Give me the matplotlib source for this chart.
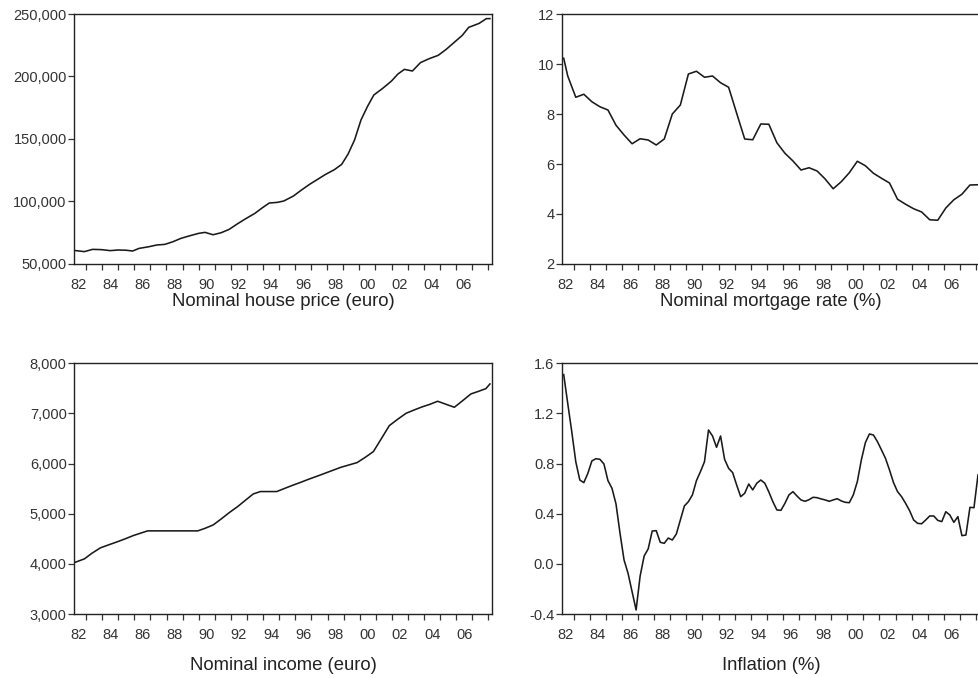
import matplotlib
matplotlib.use("Agg")
import numpy as np
import matplotlib.pyplot as plt
from matplotlib.ticker import FuncFormatter, FormatStrFormatter

plt.rcParams['font.family'] = ['Liberation Sans', 'DejaVu Sans']
plt.rcParams['axes.unicode_minus'] = False

# x axis: year boundaries get tick marks, labels sit in the middle of the year
year_ticks = list(range(1983, 2009))
label_pos = [1982.5, 1984.5, 1986.5, 1988.5, 1990.5, 1992.5, 1994.5,
             1996.5, 1998.5, 2000.5, 2002.5, 2004.5, 2006.5]
year_labels = ['82', '84', '86', '88', '90', '92', '94', '96', '98', '00', '02', '04', '06']

# nominal house price (euro)
hp_t = [1982.36, 1982.9, 1983.4, 1983.95, 1984.5, 1985.0, 1985.5, 1985.9, 1986.3, 1986.9,
        1987.4, 1987.9, 1988.4, 1988.9, 1989.4, 1990.0, 1990.4, 1990.9, 1991.4, 1991.9,
        1992.4, 1992.9, 1993.5, 1994.0, 1994.4, 1994.9, 1995.3, 1995.9, 1996.4, 1996.9,
        1997.4, 1997.9, 1998.45, 1998.9, 1999.3, 1999.7, 1999.9, 2000.1, 2000.5, 2000.9,
        2001.45, 2002.0, 2002.4, 2002.8, 2003.3, 2003.8, 2004.35, 2004.9, 2005.4, 2005.9,
        2006.4, 2006.8, 2007.45, 2007.9, 2008.12]
hp_v = [60700, 59900, 61700, 61500, 60700, 61200, 61000, 60400, 62500, 63800,
        65200, 65700, 67800, 70500, 72400, 74500, 75300, 73400, 75000, 77700,
        82000, 86000, 90500, 95300, 98800, 99300, 100400, 104400, 109200, 113700,
        117700, 121700, 125500, 129700, 138000, 149200, 157200, 165200, 175900, 185200,
        190500, 196400, 202000, 205700, 204400, 211100, 214300, 216900, 221700, 227300,
        232900, 239300, 242500, 246300, 246300]

# nominal mortgage rate (%)
mr_t = [1982.375, 1982.625, 1983.125, 1983.625, 1984.125, 1984.625, 1985.125, 1985.625,
        1986.125, 1986.625, 1987.125, 1987.625, 1988.125, 1988.625, 1989.125, 1989.625,
        1990.125, 1990.625, 1991.125, 1991.625, 1992.125, 1992.625, 1993.125, 1993.625,
        1994.125, 1994.625, 1995.125, 1995.625, 1996.125, 1996.625, 1997.125, 1997.625,
        1998.125, 1998.625, 1999.125, 1999.625, 2000.125, 2000.625, 2001.125, 2001.625,
        2002.125, 2002.625, 2003.125, 2003.625, 2004.125, 2004.625, 2005.125, 2005.625,
        2006.125, 2006.625, 2007.125, 2007.625, 2008.125]
mr_v = [10.23, 9.52, 8.67, 8.79, 8.49, 8.29, 8.16, 7.55, 7.16, 6.81,
        7.01, 6.96, 6.76, 7.0, 8.0, 8.36, 9.6, 9.71, 9.47, 9.52,
        9.25, 9.07, 8.03, 7.0, 6.97, 7.6, 7.59, 6.85, 6.43, 6.12,
        5.76, 5.85, 5.72, 5.4, 5.01, 5.29, 5.65, 6.11, 5.93, 5.63,
        5.43, 5.24, 4.59, 4.39, 4.21, 4.08, 3.77, 3.75, 4.24, 4.57,
        4.79, 5.16, 5.17]

# nominal income (euro)
in_t = [1982.34, 1982.9, 1983.37, 1983.89, 1984.4, 1984.93, 1985.42, 1985.94, 1986.44, 1986.83,
        1989.94, 1990.41, 1990.9, 1991.4, 1991.9, 1992.42, 1992.9, 1993.39, 1993.83, 1994.84,
        1995.36, 1995.84, 1996.35, 1996.83, 1997.35, 1997.84, 1998.34, 1998.84, 1999.36, 1999.84,
        2000.35, 2000.85, 2001.36, 2001.84, 2002.36, 2002.88, 2003.39, 2003.87, 2004.37, 2004.84,
        2005.36, 2005.88, 2006.4, 2006.91, 2007.39, 2007.84, 2008.09]
in_v = [4033, 4100, 4213, 4319, 4379, 4439, 4498, 4565, 4618, 4658,
        4658, 4711, 4777, 4897, 5023, 5143, 5269, 5395, 5442, 5442,
        5508, 5568, 5628, 5688, 5748, 5807, 5867, 5927, 5975, 6020,
        6126, 6239, 6505, 6757, 6884, 7003, 7070, 7130, 7183, 7243,
        7183, 7123, 7256, 7389, 7442, 7495, 7588]

# inflation (%), quarterly 1982Q2 - 2008Q1
quarters = np.arange(1982.375, 2008.2, 0.25)
inf_v = [1.51, 1.28, 1.055, 0.815, 0.669, 0.648, 0.722, 0.821, 0.839, 0.834,
         0.797, 0.664, 0.603, 0.478, 0.244, 0.031, -0.076, -0.222, -0.368, -0.097,
         0.063, 0.119, 0.262, 0.265, 0.172, 0.164, 0.206, 0.19, 0.238, 0.35,
         0.462, 0.496, 0.55, 0.664, 0.736, 0.815, 1.068, 1.02, 0.93, 1.02,
         0.834, 0.762, 0.728, 0.629, 0.536, 0.563, 0.637, 0.59, 0.643, 0.669,
         0.643, 0.574, 0.496, 0.43, 0.427, 0.483, 0.55, 0.576, 0.541, 0.51,
         0.499, 0.512, 0.531, 0.528, 0.518, 0.51, 0.499, 0.51, 0.52, 0.502,
         0.491, 0.488, 0.55, 0.656, 0.829, 0.967, 1.036, 1.028, 0.975, 0.909,
         0.842, 0.749, 0.648, 0.576, 0.536, 0.483, 0.424, 0.35, 0.323, 0.32,
         0.35, 0.382, 0.382, 0.347, 0.337, 0.416, 0.39, 0.331, 0.377, 0.225,
         0.23, 0.451, 0.448, 0.709]

W, H = 979, 678
fig = plt.figure(figsize=(W / 100, H / 100), dpi=100)


def box(left, top, right, bottom):
    return [left / W, 1 - bottom / H, (right - left) / W, (bottom - top) / H]


def panel(rect, t, v, ylim, yticks, fmt, title, title_y):
    ax = fig.add_axes(box(*rect))
    ax.plot(t, v, color='#1a1a1a', lw=1.15)
    ax.set_xlim(1982.25, 2008.25)
    ax.set_ylim(*ylim)
    ax.set_yticks(yticks)
    ax.yaxis.set_major_formatter(fmt)
    ax.set_xticks(year_ticks)
    ax.set_xticklabels([])
    ax.set_xticks(label_pos, minor=True)
    ax.set_xticklabels(year_labels, minor=True)
    ax.tick_params(axis='x', which='major', direction='out', length=4.5, width=0.9, color='#333333')
    ax.tick_params(axis='x', which='minor', length=0, pad=10, labelsize=10.5, labelcolor='#333333')
    ax.tick_params(axis='y', direction='out', length=4.5, width=0.9, pad=0.8,
                   labelsize=10.5, labelcolor='#333333', color='#333333')
    for s in ax.spines.values():
        s.set_color('#222222')
        s.set_linewidth(1.0)
    cx = (rect[0] + rect[2]) / 2
    fig.text(cx / W, 1 - title_y / H, title, ha='center', va='center',
             fontsize=13.3, color='#222222')
    return ax


comma = FuncFormatter(lambda x, p: '{:,.0f}'.format(x))

panel((74, 14, 492, 264), hp_t, hp_v, (50000, 250000), [50000, 100000, 150000, 200000, 250000],
      comma, 'Nominal house price (euro)', 302)
panel((561.7, 14, 980, 264), mr_t, mr_v, (2, 12), [2, 4, 6, 8, 10, 12],
      FormatStrFormatter('%d'), 'Nominal mortgage rate (%)', 302)
panel((74, 363.3, 492.5, 614), in_t, in_v, (3000, 8000), [3000, 4000, 5000, 6000, 7000, 8000],
      comma, 'Nominal income (euro)', 665)
panel((561.7, 363.3, 980, 614), quarters, inf_v, (-0.4, 1.6), [-0.4, 0.0, 0.4, 0.8, 1.2, 1.6],
      FormatStrFormatter('%.1f'), 'Inflation (%)', 665)

fig.savefig('out.png', dpi=100)
